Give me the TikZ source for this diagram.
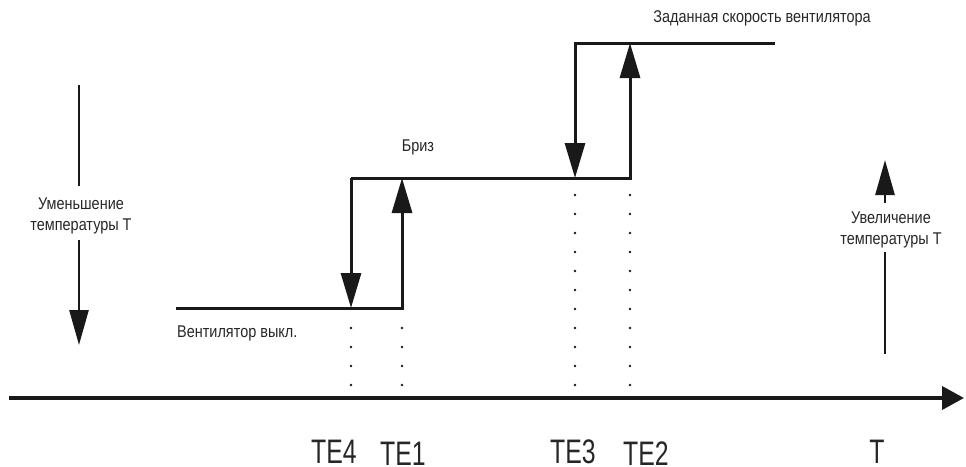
\documentclass[tikz,border=0pt]{standalone}
\usepackage{fontspec}
\usetikzlibrary{arrows.meta}
\newfontfamily\condsans[FakeStretch=0.85]{Liberation Sans}
\newfontfamily\condbig[FakeStretch=0.73]{Liberation Sans}
\begin{document}
\begin{tikzpicture}[x=1pt,y=-1pt,
  level/.style={line width=3pt, line join=miter, color=black!90},
  uparrow/.style={level, -{Triangle[length=35pt,width=20pt]}},
  axisline/.style={line width=3.8pt, color=black!90, -{Triangle[length=22pt,width=23pt]}},
  tempbar/.style={line width=2.6pt, color=black!90},
  dotcol/.style={fill=black!90},
  note/.style={font=\condsans\fontsize{17}{21}\selectfont, text=black!85, inner sep=0pt, align=center},
  tick/.style={font=\condbig\fontsize{34}{40}\selectfont, text=black!85, inner sep=0pt, anchor=base}]
\useasboundingbox (0,0) rectangle (966,466);

% temperature axis
\coordinate (axL) at (9,398);
\coordinate (axR) at (964,398);
\draw[axisline] (axL) -- (axR);

% switching points on the characteristic
\coordinate (offL)  at (176,308);
\coordinate (te4lo) at (351,308);
\coordinate (te4hi) at (351,178);
\coordinate (te1lo) at (402,308);
\coordinate (te1hi) at (402,178);
\coordinate (te3lo) at (575,178);
\coordinate (te3hi) at (575,43);
\coordinate (te2lo) at (630,178);
\coordinate (te2hi) at (630,43);
\coordinate (setR)  at (775,43);

% fan off -> breeze (rising temperature)
\draw[uparrow] (offL) -- (te1lo) -- (te1hi);
% breeze -> fan off (falling temperature)
\draw[uparrow] (te4hi) -- (te4lo);
% breeze level, rising to the set speed at TE2
\draw[uparrow] (te4hi) -- (te2lo) -- (te2hi);
% set speed level, falling back to breeze at TE3
\draw[uparrow] (setR) -- (te3hi) -- (te3lo);

% dotted guides down to the axis
\foreach \xx/\yy/\nn in {351/328/3, 402/328/3, 575/195/10, 630/195/10}{
  \foreach \k in {0,...,\nn}{
    \fill[dotcol] (\xx,\yy+19*\k) circle (1.3pt);
  }
}

% state labels
\node[note, anchor=west] (offlbl) at (177,333) {Вентилятор выкл.};
\node[note] (brlbl) at (418,147) {Бриз};
\node[note] (setlbl) at (762,18) {Заданная скорость вентилятора};

% falling temperature indicator
\node[note] (down) at (81,216) {Уменьшение\\температуры Т};
\coordinate (downTop) at (79,85);
\coordinate (downMid) at (79,186);
\coordinate (downLow) at (79,240);
\coordinate (downTip) at (79,345);
\draw[tempbar] (downTop) -- (downMid);
\draw[tempbar, -{Triangle[length=35pt,width=19pt]}] (downLow) -- (downTip);

% rising temperature indicator
\node[note] (up) at (891,230) {Увеличение\\температуры Т};
\coordinate (upTip) at (885,160);
\coordinate (upMid) at (885,203);
\coordinate (upLow) at (885,252);
\coordinate (upBot) at (885,354);
\draw[tempbar, -{Triangle[length=35pt,width=19pt]}] (upMid) -- (upTip);
\draw[tempbar] (upLow) -- (upBot);

% threshold names under the axis
\node[tick] (te4) at (334,463) {TE4};
\node[tick] (te1) at (403,465) {TE1};
\node[tick] (te3) at (573,463) {TE3};
\node[tick] (te2) at (646,465) {TE2};
\node[tick] (tt)  at (877,463) {T};
\end{tikzpicture}
\end{document}
